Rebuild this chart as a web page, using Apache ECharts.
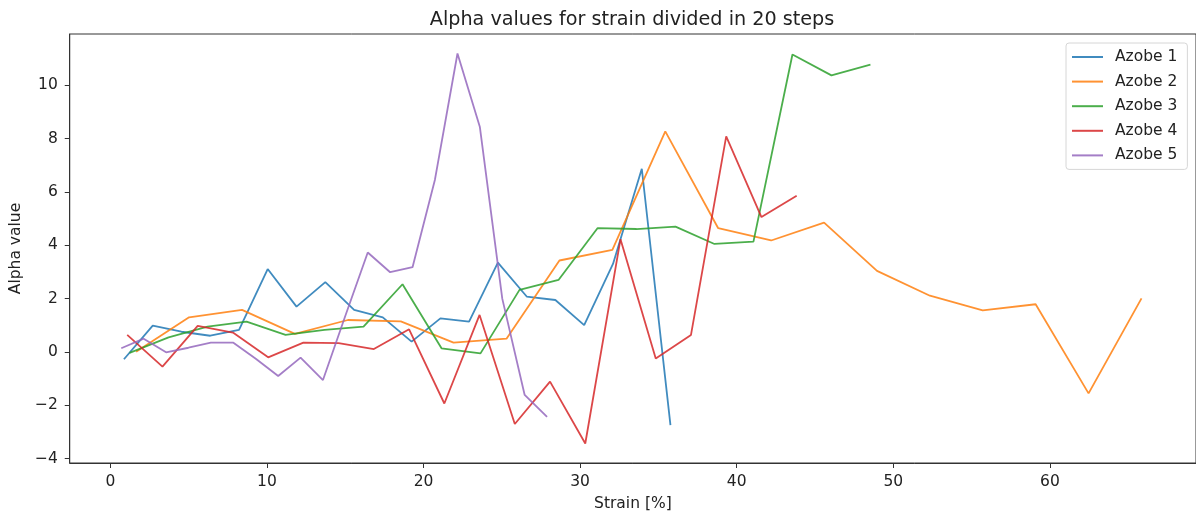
<!DOCTYPE html>
<html>
<head>
<meta charset="utf-8">
<script src="https://cdn.jsdelivr.net/npm/echarts@6/dist/echarts.min.js"></script>
<style>
html,body{margin:0;padding:0;background:#fff;}
#chart{width:1196px;height:517px;}
</style>
</head>
<body>
<div id="chart"></div>
<script>
const seriesNames = ['Azobe 1', 'Azobe 2', 'Azobe 3', 'Azobe 4', 'Azobe 5'];

const strain1 = [0.87, 2.71, 4.54, 6.38, 8.22, 10.05, 11.89, 13.73, 15.57, 17.40, 19.24, 21.08, 22.91, 24.75, 26.59, 28.42, 30.26, 32.10, 33.94, 35.77];
const alpha1  = [-0.27, 0.99, 0.76, 0.61, 0.83, 3.11, 1.70, 2.62, 1.58, 1.30, 0.39, 1.26, 1.14, 3.35, 2.08, 1.95, 1.01, 3.30, 6.87, -2.74];

const strain2 = [1.65, 5.03, 8.41, 11.79, 15.17, 18.55, 21.92, 25.30, 28.68, 32.06, 35.44, 38.82, 42.20, 45.58, 48.96, 52.34, 55.71, 59.09, 62.47, 65.85];
const alpha2  = [0.01, 1.30, 1.58, 0.68, 1.20, 1.15, 0.35, 0.50, 3.43, 3.83, 8.27, 4.64, 4.18, 4.85, 3.04, 2.11, 1.56, 1.79, -1.55, 2.01];

const strain3 = [1.23, 3.72, 6.21, 8.70, 11.19, 13.68, 16.17, 18.66, 21.15, 23.64, 26.13, 28.62, 31.11, 33.60, 36.09, 38.58, 41.07, 43.56, 46.05, 48.54];
const alpha3  = [-0.03, 0.55, 0.95, 1.14, 0.64, 0.83, 0.95, 2.54, 0.14, -0.05, 2.33, 2.70, 4.64, 4.61, 4.70, 4.05, 4.14, 11.15, 10.37, 10.77];

const strain4 = [1.08, 3.33, 5.58, 7.83, 10.08, 12.33, 14.58, 16.83, 19.08, 21.33, 23.58, 25.83, 28.08, 30.33, 32.58, 34.83, 37.08, 39.33, 41.58, 43.83];
const alpha4  = [0.64, -0.55, 0.98, 0.73, -0.20, 0.35, 0.33, 0.11, 0.85, -1.93, 1.39, -2.70, -1.11, -3.43, 4.23, -0.24, 0.64, 8.08, 5.06, 5.86];

const strain5 = [0.70, 2.13, 3.56, 4.99, 6.42, 7.86, 9.29, 10.72, 12.15, 13.58, 15.01, 16.44, 17.87, 19.30, 20.73, 22.17, 23.60, 25.03, 26.46, 27.89];
const alpha5  = [0.14, 0.50, -0.01, 0.16, 0.35, 0.35, -0.25, -0.90, -0.21, -1.05, 1.36, 3.73, 2.99, 3.18, 6.46, 11.19, 8.43, 2.00, -1.61, -2.43];

const xTicks = [0, 10, 20, 30, 40, 50, 60];
const yTicks = [-4, -2, 0, 2, 4, 6, 8, 10];

const colors = ['#1f77b4', '#ff7f0e', '#2ca02c', '#d62728', '#9467bd'];
const strains = [strain1, strain2, strain3, strain4, strain5];
const alphas = [alpha1, alpha2, alpha3, alpha4, alpha5];

const FONT = "'DejaVu Sans', sans-serif";

const chart = echarts.init(document.getElementById('chart'), null, {renderer: 'canvas'});

const series = seriesNames.map((name, i) => ({
  name: name,
  type: 'line',
  data: strains[i].map((x, j) => [x, alphas[i][j]]),
  showSymbol: false,
  symbol: 'none',
  lineStyle: {color: colors[i], width: 1.8, opacity: 0.85},
  itemStyle: {color: colors[i]},
  animation: false
}));

chart.setOption({
  animation: false,
  backgroundColor: '#fff',
  title: {
    text: 'Alpha values for strain divided in 20 steps',
    left: 627, textAlign: 'center', top: 6,
    textStyle: {fontFamily: FONT, fontSize: 19.2, fontWeight: 'normal', color: '#222'}
  },
  grid: {
    left: 68, top: 34, width: 1131, height: 430,
    show: true, borderColor: '#333', borderWidth: 1, backgroundColor: 'transparent'
  },
  legend: {
    left: 1066, top: 43,
    orient: 'vertical',
    data: seriesNames.map((n, i) => ({name: n, icon: 'rect', itemStyle: {color: colors[i], opacity: 0.85}})),
    itemWidth: 31, itemHeight: 2, itemGap: 8.6,
    padding: [6, 10, 6, 6],
    borderColor: '#d6d6d6', borderWidth: 1, borderRadius: 3,
    backgroundColor: 'rgba(255,255,255,0.8)',
    textStyle: {fontFamily: FONT, fontSize: 15.5, color: '#222', padding: [0, 0, 0, 7]}
  },
  xAxis: {
    type: 'value', min: -2.59, max: 69.33,
    name: 'Strain [%]', nameLocation: 'middle', nameGap: 33,
    nameTextStyle: {fontFamily: FONT, fontSize: 15.5, color: '#222'},
    axisLine: {show: true, onZero: false, lineStyle: {color: '#333', width: 1}},
    axisTick: {show: true, length: 5, inside: false, customValues: xTicks, lineStyle: {color: '#333'}},
    axisLabel: {customValues: xTicks, margin: 11, fontFamily: FONT, fontSize: 15.5, color: '#222'},
    splitLine: {show: false}
  },
  yAxis: {
    type: 'value', min: -4.16, max: 11.92,
    name: 'Alpha value', nameLocation: 'middle', nameGap: 43,
    nameTextStyle: {fontFamily: FONT, fontSize: 15.5, color: '#222'},
    axisLine: {show: true, onZero: false, lineStyle: {color: '#333', width: 1}},
    axisTick: {show: true, length: 5, inside: false, customValues: yTicks, lineStyle: {color: '#333'}},
    axisLabel: {customValues: yTicks, margin: 12, fontFamily: FONT, fontSize: 15.5, color: '#222',
      formatter: v => (v < 0 ? '\u2212' + Math.abs(v) : String(v))},
    splitLine: {show: false}
  },
  series: series
});
</script>
</body>
</html>
